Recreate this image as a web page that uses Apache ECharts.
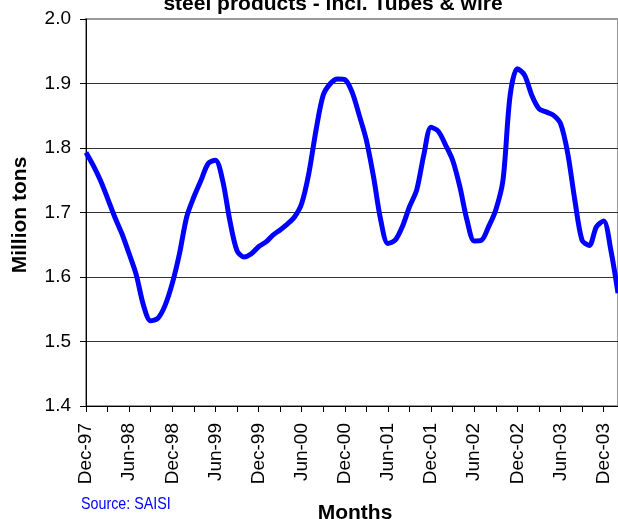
<!DOCTYPE html>
<html>
<head>
    <meta charset="utf-8">
    <script src="https://cdn.jsdelivr.net/npm/echarts@6/dist/echarts.min.js"></script>
    <style>
        html, body { margin: 0; padding: 0; background: #fff; }
    </style>
</head>
<body>
    <div id="main" style="width:618px; height:519px;"></div>
</body>
<script type="text/javascript">
    // monthly labels, Dec-97 .. Feb-04
    const months = [
        'Dec-97',
        'Jan-98', 'Feb-98', 'Mar-98', 'Apr-98', 'May-98', 'Jun-98', 'Jul-98', 'Aug-98', 'Sep-98', 'Oct-98', 'Nov-98', 'Dec-98',
        'Jan-99', 'Feb-99', 'Mar-99', 'Apr-99', 'May-99', 'Jun-99', 'Jul-99', 'Aug-99', 'Sep-99', 'Oct-99', 'Nov-99', 'Dec-99',
        'Jan-00', 'Feb-00', 'Mar-00', 'Apr-00', 'May-00', 'Jun-00', 'Jul-00', 'Aug-00', 'Sep-00', 'Oct-00', 'Nov-00', 'Dec-00',
        'Jan-01', 'Feb-01', 'Mar-01', 'Apr-01', 'May-01', 'Jun-01', 'Jul-01', 'Aug-01', 'Sep-01', 'Oct-01', 'Nov-01', 'Dec-01',
        'Jan-02', 'Feb-02', 'Mar-02', 'Apr-02', 'May-02', 'Jun-02', 'Jul-02', 'Aug-02', 'Sep-02', 'Oct-02', 'Nov-02', 'Dec-02',
        'Jan-03', 'Feb-03', 'Mar-03', 'Apr-03', 'May-03', 'Jun-03', 'Jul-03', 'Aug-03', 'Sep-03', 'Oct-03', 'Nov-03', 'Dec-03',
        'Jan-04', 'Feb-04'
    ];

    // million tons
    const tons = [
        1.793,
        1.773, 1.750, 1.722, 1.693, 1.667, 1.636, 1.603, 1.556, 1.532, 1.536, 1.556, 1.590,
        1.636, 1.693, 1.724, 1.750, 1.776, 1.781, 1.750, 1.688, 1.641, 1.631, 1.636, 1.647,
        1.654, 1.665, 1.673, 1.682, 1.693, 1.714, 1.761, 1.828, 1.882, 1.900, 1.907, 1.906,
        1.887, 1.851, 1.812, 1.755, 1.688, 1.652, 1.657, 1.678, 1.709, 1.735, 1.790, 1.832,
        1.826, 1.805, 1.781, 1.740, 1.688, 1.656, 1.657, 1.678, 1.704, 1.750, 1.882, 1.923,
        1.913, 1.882, 1.861, 1.856, 1.851, 1.838, 1.792, 1.719, 1.657, 1.649, 1.678, 1.687,
        1.642, 1.575
    ];

    const font = '"Liberation Sans", Arial, sans-serif';

    const myChart = echarts.init(document.getElementById('main'));

    let option = {
        animation: false,
        backgroundColor: '#fff',
        grid: {
            left: 86,
            top: 19,
            bottom: 113,
            right: -3,
            show: true,
            borderColor: '#999',
            borderWidth: 2
        },
        xAxis: {
            type: 'category',
            data: months,
            boundaryGap: false,
            axisLine: { lineStyle: { color: '#000', width: 1 } },
            axisTick: {
                interval: 2,
                length: 6,
                lineStyle: { color: '#000' }
            },
            axisLabel: {
                interval: 5,
                rotate: 90,
                margin: 17,
                color: '#000',
                fontFamily: font,
                fontSize: 19
            },
            splitLine: { show: false }
        },
        yAxis: {
            type: 'value',
            min: 1.4,
            max: 2.0,
            interval: 0.1,
            axisLine: { show: true, lineStyle: { color: '#000', width: 1 } },
            axisTick: { show: true, length: 6, lineStyle: { color: '#000' } },
            axisLabel: {
                margin: 15,
                color: '#000',
                fontFamily: font,
                fontSize: 19,
                formatter: v => v.toFixed(1)
            },
            splitLine: {
                showMaxLine: false,
                lineStyle: { color: '#333', width: 1 }
            }
        },
        graphic: [
            {
                type: 'text',
                x: 333,
                y: 4,
                style: {
                    text: 'steel products - incl. Tubes & wire',
                    fill: '#000',
                    font: 'bold 21px ' + font,
                    align: 'center',
                    verticalAlign: 'middle'
                }
            },
            {
                type: 'text',
                x: 20,
                y: 215,
                rotation: Math.PI / 2,
                style: {
                    text: 'Million tons',
                    fill: '#000',
                    font: 'bold 21px ' + font,
                    align: 'center',
                    verticalAlign: 'middle'
                }
            },
            {
                type: 'text',
                x: 355,
                y: 513,
                style: {
                    text: 'Months',
                    fill: '#000',
                    font: 'bold 21px ' + font,
                    align: 'center',
                    verticalAlign: 'middle'
                }
            },
            {
                type: 'text',
                x: 81,
                y: 504,
                scaleX: 0.84,
                style: {
                    text: 'Source: SAISI',
                    fill: '#0000ff',
                    font: '17px ' + font,
                    align: 'left',
                    verticalAlign: 'middle'
                }
            }
        ],
        series: [
            {
                type: 'line',
                data: tons,
                smooth: 0.3,
                symbol: 'none',
                clip: true,
                lineStyle: { color: '#0000ff', width: 5 }
            }
        ]
    };
    option && myChart.setOption(option);
</script>
</html>
